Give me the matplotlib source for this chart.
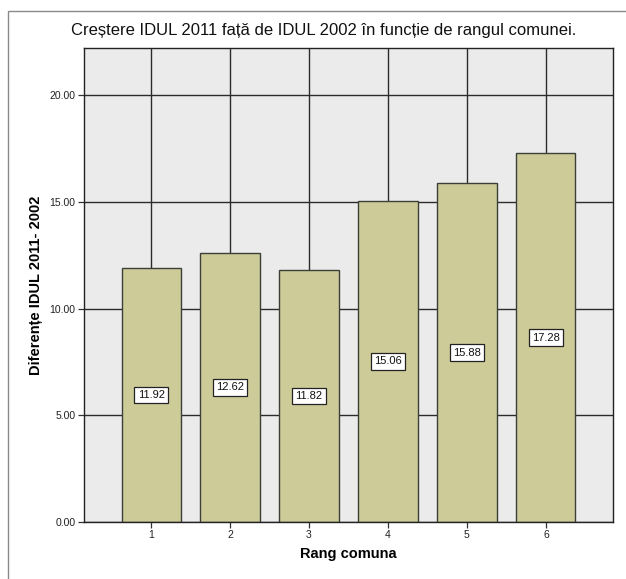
import matplotlib
matplotlib.use("Agg")
import matplotlib.pyplot as plt
from matplotlib.patches import Rectangle

categories = ["1", "2", "3", "4", "5", "6"]
values = [11.92, 12.62, 11.82, 15.06, 15.88, 17.28]
value_labels = ["11.92", "12.62", "11.82", "15.06", "15.88", "17.28"]
yticks = [0, 5, 10, 15, 20]
ytick_labels = ["0.00", "5.00", "10.00", "15.00", "20.00"]

plt.rcParams['font.family'] = ['Liberation Sans', 'DejaVu Sans']

W, H = 626, 579
fig = plt.figure(figsize=(W / 100, H / 100), dpi=100)
fig.patch.set_facecolor('white')

# outer frame (left & top visible)
fig.add_artist(Rectangle((8 / W, -0.1), 1.2, 1 - 11 / H + 0.1, transform=fig.transFigure,
                         fill=False, edgecolor='#8a8a8a', linewidth=1.0))

ax = fig.add_axes([84 / W, 1 - 522 / H, (613 - 84) / W, (522 - 48) / H])
ax.set_facecolor('#ebebeb')
x = list(range(1, len(categories) + 1))
ax.set_axisbelow(True)
ax.grid(True, color='#2b2b2b', linewidth=1.0)
ax.bar(x, values, width=0.75, color='#cdcb98', edgecolor='#3a3f38', linewidth=1.0, zorder=2)
for xi, v, lab in zip(x, values, value_labels):
    ax.text(xi, v / 2, lab, ha='center', va='center', fontsize=8, color='#111111', zorder=4,
            bbox=dict(boxstyle='square,pad=0.3', facecolor='white', edgecolor='#222222', linewidth=0.9))

ax.set_xlim(0.15, 6.85)
ax.set_ylim(0, 22.22)
ax.set_xticks(x)
ax.set_xticklabels(categories)
ax.set_yticks(yticks)
ax.set_yticklabels(ytick_labels)
ax.tick_params(axis='both', labelsize=7.5, length=4, width=0.9, color='#333333', labelcolor='#222222', pad=2)
for s in ax.spines.values():
    s.set_color('#222222')
    s.set_linewidth(1.0)

ax.set_xlabel('Rang comuna', fontsize=10.5, fontweight='bold', labelpad=5)
ax.set_ylabel('Diferențe IDUL 2011- 2002', fontsize=10.5, fontweight='bold', labelpad=5)
fig.text(324 / W, 1 - 30 / H, 'Creștere IDUL 2011 față de IDUL 2002 în funcție de rangul comunei.',
         ha='center', va='center', fontsize=12, color='#111111')

fig.savefig('out.png', dpi=100, facecolor='white')
